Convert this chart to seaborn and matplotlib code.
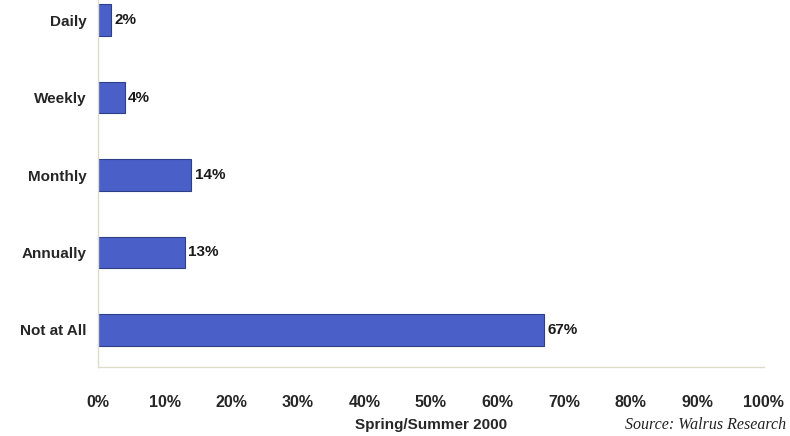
import matplotlib
matplotlib.use("Agg")
import pandas as pd
import matplotlib.pyplot as plt
import seaborn as sns
from matplotlib.ticker import FuncFormatter

# 数据
categories = ["Daily", "Weekly", "Monthly", "Annually", "Not at All"]
shares = [2, 4, 14, 13, 67]
x_ticks = [0, 10, 20, 30, 40, 50, 60, 70, 80, 90, 100]

df = pd.DataFrame({"freq": categories, "pct": shares})

sns.set_style("white")
plt.rcParams["font.family"] = ["Liberation Sans", "DejaVu Sans"]

fig = plt.figure(figsize=(7.9, 4.36), dpi=100)
ax = fig.add_axes([0.124, 0.158, 0.843, 0.842])

sns.barplot(data=df, x="pct", y="freq", order=categories, color="#4A60C8",
            width=0.41, edgecolor="#2E3F8A", linewidth=0.8, saturation=1, ax=ax)

# 数值标注
for i, v in enumerate(shares):
    ax.text(v + 0.5, i, f"{v}%", va="center", ha="left",
            fontsize=11, fontweight="bold", color="#1a1a1a")

ax.set_xlim(0, 100)
ax.set_ylim(4.48, -0.26)
ax.set_xticks(x_ticks)
ax.xaxis.set_major_formatter(FuncFormatter(lambda v, p: f"{v:.0f}%"))
ax.tick_params(axis="x", length=0, pad=20, labelsize=11.5)
ax.tick_params(axis="y", length=0, pad=8, labelsize=11)
for lab in ax.get_xticklabels() + ax.get_yticklabels():
    lab.set_fontweight("bold")

ax.set_xlabel("Spring/Summer 2000", fontsize=11, fontweight="bold", labelpad=6)
ax.set_ylabel("")

for side in ["top", "right"]:
    ax.spines[side].set_visible(False)
for side in ["left", "bottom"]:
    ax.spines[side].set_color("#dcdcc8")
    ax.spines[side].set_linewidth(1)

fig.text(0.995, 0.025, "Source: Walrus Research", ha="right", va="center",
         fontsize=11.5, style="italic", family=["Liberation Serif", "DejaVu Serif"],
         color="#222222")

plt.savefig("out.png", dpi=100)
